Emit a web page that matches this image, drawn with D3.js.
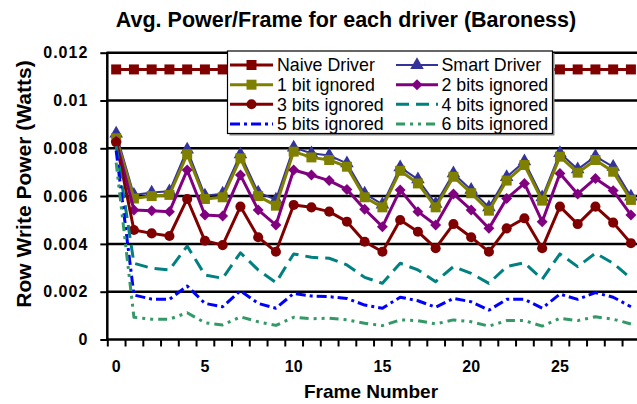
<!DOCTYPE html>
<html><head><meta charset="utf-8">
<script src="https://cdn.jsdelivr.net/npm/d3@7"></script>
<style>body{margin:0;background:#fff}svg{display:block}text{font-family:"Liberation Sans",Arial,sans-serif}</style>
</head><body><svg id="c" width="637" height="404"></svg>
<script>
const frames = d3.range(0, 30);
const xTickLabels = [0, 5, 10, 15, 20, 25];
const yTicks = [0, 0.002, 0.004, 0.006, 0.008, 0.01, 0.012];
const seriesNames = ["Naive Driver","Smart Driver","1 bit ignored","2 bits ignored","3 bits ignored","4 bits ignored","5 bits ignored","6 bits ignored"];
const naive = frames.map(() => 0.0113);
const smart = [0.00862,0.00605,0.00615,0.0062,0.00795,0.00602,0.0061,0.00775,0.00615,0.00585,0.00803,0.00779,0.0077,0.00737,0.0061,0.00565,0.0072,0.0067,0.00568,0.00695,0.00626,0.00553,0.0068,0.00745,0.00595,0.0078,0.00712,0.00766,0.00722,0.00598];
const bit1 = [0.00842,0.0059,0.006,0.00605,0.00775,0.00588,0.00595,0.00758,0.006,0.0056,0.00786,0.00762,0.00751,0.00723,0.00595,0.00553,0.00706,0.00653,0.00553,0.00681,0.00612,0.00539,0.00665,0.0073,0.00581,0.00765,0.00698,0.00751,0.00702,0.00584];
const bit2 = [0.0083,0.00542,0.00539,0.00535,0.00709,0.00521,0.00517,0.00688,0.00542,0.00479,0.00709,0.00688,0.00665,0.00628,0.00545,0.00472,0.00626,0.00535,0.00479,0.00609,0.00542,0.00465,0.0059,0.00653,0.00493,0.00695,0.00609,0.00674,0.00623,0.00521];
const bit3 = [0.00825,0.00458,0.00444,0.00433,0.00588,0.00413,0.00395,0.00556,0.00428,0.00367,0.00563,0.00553,0.00535,0.00493,0.00409,0.00367,0.005,0.00451,0.00382,0.00483,0.00428,0.00367,0.00465,0.00507,0.00382,0.00556,0.00483,0.00556,0.00489,0.00403];
const bit4 = [0.0081,0.00319,0.00298,0.00291,0.00391,0.0027,0.00256,0.00363,0.00291,0.00238,0.00358,0.00344,0.0034,0.00312,0.0026,0.00235,0.00319,0.00291,0.00242,0.00305,0.00277,0.00235,0.00305,0.00321,0.00252,0.00358,0.00305,0.00361,0.00319,0.00256];
const bit5 = [0.0079,0.00186,0.00169,0.00168,0.00224,0.00151,0.00137,0.00204,0.00151,0.00131,0.00193,0.00182,0.00179,0.00172,0.00144,0.00131,0.00177,0.00162,0.00135,0.00172,0.00158,0.00123,0.00168,0.00168,0.00131,0.0019,0.00168,0.00196,0.00177,0.00137];
const bit6 = [0.0074,0.00093,0.00085,0.00085,0.00112,0.0007,0.00061,0.00095,0.00074,0.00059,0.00093,0.00087,0.00089,0.00082,0.00068,0.00058,0.00082,0.00079,0.00065,0.00082,0.00074,0.00056,0.00079,0.00079,0.00056,0.00089,0.00079,0.00095,0.00085,0.00065];

const styles = [
  {color:"#800000", w:3, dash:null, sym:"square"},
  {color:"#333399", w:2, dash:null, sym:"triangle"},
  {color:"#808000", w:3, dash:null, sym:"square"},
  {color:"#800080", w:3, dash:null, sym:"diamond"},
  {color:"#800000", w:3, dash:null, sym:"circle"},
  {color:"#008080", w:3, dash:"13,7", sym:null},
  {color:"#0000FF", w:3, dash:"10,4,3,4", sym:null},
  {color:"#339966", w:3, dash:"9,5,3,5,3,5", sym:null}
];
const allValues = [naive, smart, bit1, bit2, bit3, bit4, bit5, bit6];
const series = seriesNames.map((n,i)=>({name:n, values:allValues[i], st:styles[i]}));

const svg = d3.select("#c");
const L = 107.3, R = 639.8, T = 52.7, B = 339.5;
const x = d3.scaleBand().domain(frames).range([L, R]);
const xb = d3.scaleLinear().domain([-0.5, 29.5]).range([L, R]);
const y = d3.scaleLinear().domain([0, 0.012]).range([B, T]);

// gridlines
svg.append("g").selectAll("line").data(yTicks.filter(d=>d>0)).join("line")
  .attr("x1", L).attr("x2", R).attr("y1", d=>y(d)).attr("y2", d=>y(d))
  .attr("stroke","#000").attr("stroke-width",2.5);

// y axis
const yAxis = svg.append("g").attr("transform",`translate(${L},0)`)
  .call(d3.axisLeft(y).tickValues(yTicks).tickSize(7).tickPadding(12)
    .tickFormat(d => d===0 ? "0" : String(+d.toFixed(3))));
yAxis.select(".domain").attr("stroke","#000").attr("stroke-width",2.5).attr("d",`M0,${B+1}V${T-1}`);
yAxis.selectAll(".tick line").attr("stroke","#000").attr("stroke-width",2);
yAxis.selectAll("text").attr("font-size",16).attr("font-weight","bold").attr("letter-spacing","1px").attr("fill","#000");

// x axis ticks at band boundaries
const xTicks = svg.append("g").attr("transform",`translate(0,${B})`)
  .call(d3.axisBottom(xb).tickValues(d3.range(-0.5, 30, 1)).tickSize(7).tickFormat(""));
xTicks.select(".domain").attr("stroke","#000").attr("stroke-width",2.5).attr("d",`M${L-1},0H${R}`);
xTicks.selectAll(".tick line").attr("stroke","#000").attr("stroke-width",2);
// x labels
const xLab = svg.append("g").attr("transform",`translate(0,${B})`)
  .call(d3.axisBottom(x).tickValues(xTickLabels).tickSize(0).tickPadding(21));
xLab.select(".domain").remove();
xLab.selectAll("text").attr("font-size",16).attr("font-weight","bold").attr("fill","#000");

const cx = d => x(d) + x.bandwidth()/2;
const symMap = {square:d3.symbolSquare, triangle:d3.symbolTriangle, diamond:d3.symbolSquare, circle:d3.symbolCircle};
const symSize = {square:100, triangle:80, diamond:60, circle:80};
const line = d3.line().x((d,i)=>cx(frames[i])).y(d=>y(d));

series.forEach(s => {
  const g = svg.append("g");
  g.append("path").attr("d", line(s.values)).attr("fill","none")
    .attr("stroke", s.st.color).attr("stroke-width", s.st.w)
    .attr("stroke-dasharray", s.st.dash).attr("stroke-linejoin","round");
  if (s.st.sym) {
    const sym = d3.symbol().type(symMap[s.st.sym]).size(symSize[s.st.sym]);
    g.selectAll("path.m").data(s.values).join("path").attr("class","m")
      .attr("d", sym)
      .attr("transform",(d,i)=>`translate(${cx(frames[i])},${y(d)})` + (s.st.sym==="diamond"?" rotate(45)":""))
      .attr("fill", s.st.color);
  }
});

// legend
const lg = svg.append("g");
lg.append("rect").attr("x",229.5).attr("y",53).attr("width",325).attr("height",82.5).attr("fill","#888");
lg.append("rect").attr("x",227.5).attr("y",51).attr("width",325).attr("height",82.5)
  .attr("fill","#fff").attr("stroke","#000").attr("stroke-width",1.2);
const rowsY = [65, 84.7, 104.3, 124];
const cols = [{x1:230, x2:273, tx:277}, {x1:396, x2:438, tx:441.5}];
series.forEach((s,i) => {
  const c = cols[i%2], ry = rowsY[Math.floor(i/2)];
  lg.append("line").attr("x1",c.x1).attr("x2",c.x2).attr("y1",ry).attr("y2",ry)
    .attr("stroke",s.st.color).attr("stroke-width",s.st.w).attr("stroke-dasharray",s.st.dash);
  if (s.st.sym) {
    lg.append("path").attr("d", d3.symbol().type(symMap[s.st.sym]).size(symSize[s.st.sym]))
      .attr("transform",`translate(${(c.x1+c.x2)/2},${ry})`+(s.st.sym==="diamond"?" rotate(45)":""))
      .attr("fill",s.st.color);
  }
  lg.append("text").attr("x",c.tx).attr("y",ry+6.4).attr("font-size",17.8).attr("fill","#000").text(s.name);
});

// titles
svg.append("text").attr("x",346).attr("y",27).attr("text-anchor","middle")
  .attr("font-size",21.5).attr("font-weight","bold").text("Avg. Power/Frame for each driver (Baroness)");
svg.append("text").attr("x",371).attr("y",398).attr("text-anchor","middle")
  .attr("font-size",19).attr("font-weight","bold").text("Frame Number");
svg.append("text").attr("transform","translate(31,184) rotate(-90)").attr("text-anchor","middle")
  .attr("font-size",21).attr("font-weight","bold").text("Row Write Power (Watts)");
</script></body></html>
